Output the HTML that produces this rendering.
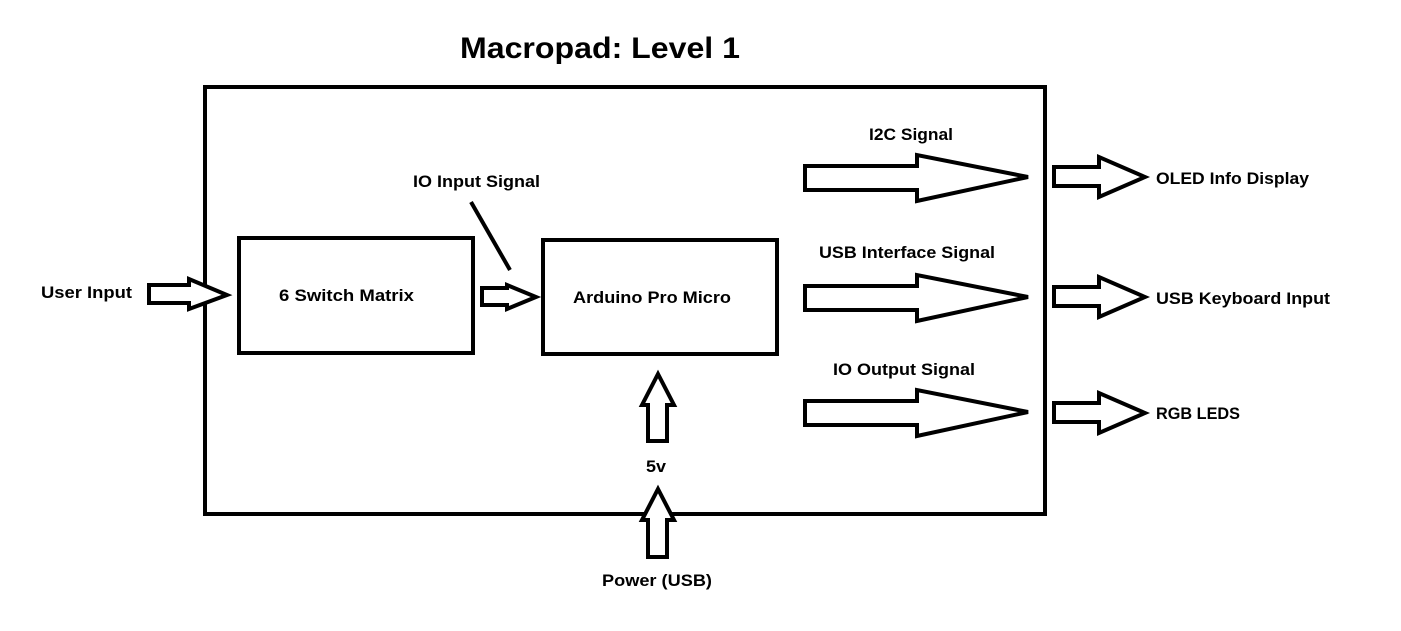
<!DOCTYPE html>
<html><head><style>
body{margin:0;background:#fff;}
svg{display:block;}
text{font-family:"Liberation Sans",sans-serif;font-weight:bold;font-size:17px;fill:#000;}
</style></head><body>
<svg width="1401" height="631" viewBox="0 0 1401 631">
<g fill="none" stroke="#000" stroke-width="4" stroke-linejoin="miter">
<rect x="205" y="87" width="840" height="427"/>
<rect x="239" y="238" width="234" height="115"/>
<rect x="543" y="240" width="234" height="114"/>
<line x1="471" y1="202" x2="510" y2="270"/>
</g>
<g fill="#fff" stroke="#000" stroke-width="4" stroke-linejoin="miter">
<polygon points="149,285 189,285 189,279 227,295 189,309 189,303 149,303"/>
<polygon points="482,288 507,288 507,285 536,297 507,309 507,305 482,305"/>
<polygon points="805,166 917,166 917,155 1028,177 917,201 917,190 805,190"/>
<polygon points="805,286 917,286 917,275 1028,297 917,321 917,310 805,310"/>
<polygon points="805,401 917,401 917,390 1028,412 917,436 917,425 805,425"/>
<polygon points="1054,167 1099,167 1099,157 1145,177 1099,197 1099,186 1054,186"/>
<polygon points="1054,287 1099,287 1099,277 1145,297 1099,317 1099,306 1054,306"/>
<polygon points="1054,403 1099,403 1099,393 1145,413 1099,433 1099,422 1054,422"/>
<polygon points="658,374 674,405 667,405 667,441 648,441 648,405 642,405"/>
<polygon points="658,489 674,520 667,520 667,557 648,557 648,520 642,520"/>
</g>
<text x="460" y="58" style="font-size:30px" textLength="280" lengthAdjust="spacingAndGlyphs">Macropad: Level 1</text>
<text x="41" y="298" textLength="91" lengthAdjust="spacingAndGlyphs">User Input</text>
<text x="279" y="301" textLength="135" lengthAdjust="spacingAndGlyphs">6 Switch Matrix</text>
<text x="413" y="187" textLength="127" lengthAdjust="spacingAndGlyphs">IO Input Signal</text>
<text x="573" y="303" textLength="158" lengthAdjust="spacingAndGlyphs">Arduino Pro Micro</text>
<text x="869" y="140" textLength="84" lengthAdjust="spacingAndGlyphs">I2C Signal</text>
<text x="819" y="258" textLength="176" lengthAdjust="spacingAndGlyphs">USB Interface Signal</text>
<text x="833" y="375" textLength="142" lengthAdjust="spacingAndGlyphs">IO Output Signal</text>
<text x="1156" y="184" textLength="153" lengthAdjust="spacingAndGlyphs">OLED Info Display</text>
<text x="1156" y="304" textLength="174" lengthAdjust="spacingAndGlyphs">USB Keyboard Input</text>
<text x="1156" y="419" textLength="84" lengthAdjust="spacingAndGlyphs">RGB LEDS</text>
<text x="646" y="472" textLength="20" lengthAdjust="spacingAndGlyphs">5v</text>
<text x="602" y="586" textLength="110" lengthAdjust="spacingAndGlyphs">Power (USB)</text>
</svg>
</body></html>
